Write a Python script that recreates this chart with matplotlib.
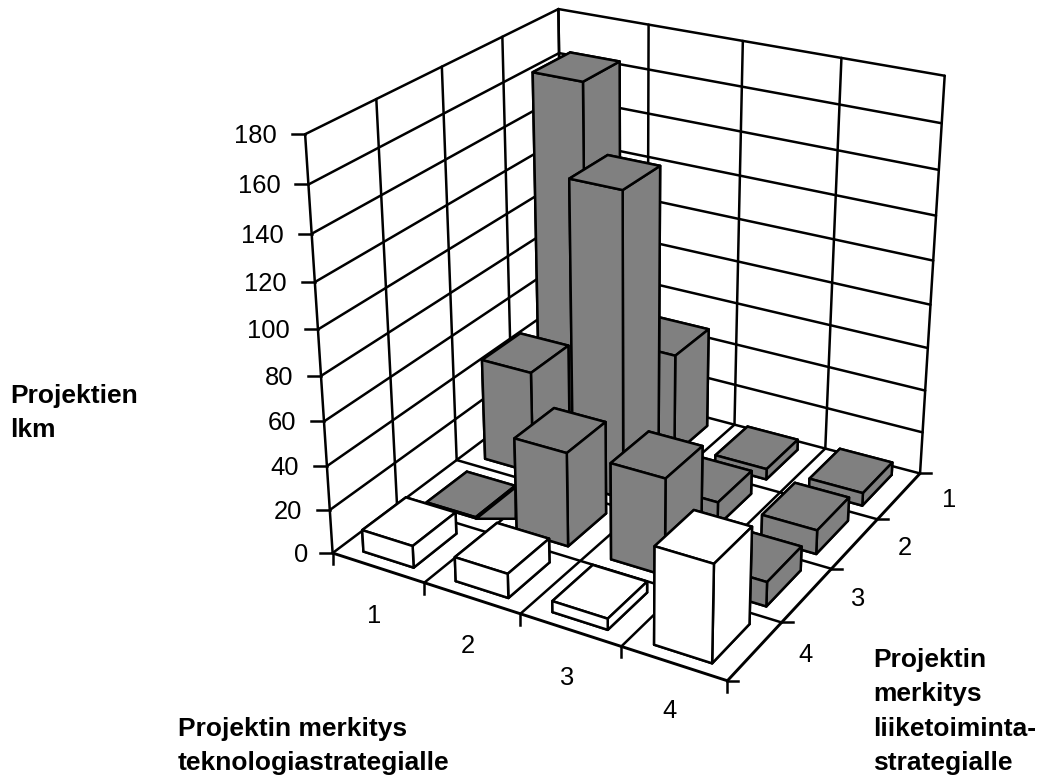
import matplotlib
matplotlib.use("Agg")
import matplotlib.pyplot as plt
import numpy as np
from mpl_toolkits.mplot3d.art3d import Poly3DCollection

plt.rcParams["font.family"] = ["Liberation Sans", "DejaVu Sans"]

WIDTH, HEIGHT = 1039, 775

# project counts, one list per business-strategy class (1 = back row)
tech_labels = ["1", "2", "3", "4"]
business_labels = ["1", "2", "3", "4"]
value_ticks = [0, 20, 40, 60, 80, 100, 120, 140, 160, 180]
business_1 = [164, 48, 5, 6]
business_2 = [48, 140, 11, 11]
business_3 = [0.5, 43, 44, 11]
business_4 = [10, 11, 5, 43]
bar_colors = ["#808080", "#808080", "#808080", "#ffffff"]

BAR_DX = 0.55
BAR_DY = 0.68
LW = 1.8

# box corners (tech, business, value) and where they sit on the canvas
box_corners = [
    (0, 0, 180), (0, 4, 180), (0, 4, 0), (4, 0, 180),
    (4, 0, 0), (4, 4, 0), (0, 0, 0),
]
canvas_corners = [
    (560, 9), (304, 134), (334, 553), (944, 76),
    (921, 473), (727, 681), (562, 380),
]


def fit_camera(world, canvas):
    rows = []
    for (x, y, z), (u, v) in zip(world, canvas):
        rows.append([x, y, z, 1, 0, 0, 0, 0, -u * x, -u * y, -u * z, -u])
        rows.append([0, 0, 0, 0, x, y, z, 1, -v * x, -v * y, -v * z, -v])
    p = np.linalg.svd(np.array(rows, dtype=float))[2][-1].reshape(3, 4)
    return p / p[2, 3]


P = fit_camera(box_corners, canvas_corners)
M = np.array([P[0], P[1], [-1, -1, -0.01, 0], P[2]])


def to_canvas(x, y, z):
    u, v, w = P @ np.array([x, y, z, 1.0])
    return u / w, v / w


def floor_point(u, v):
    x, y, w = np.linalg.solve(P[:, [0, 1, 3]], [u, v, 1.0])
    return x / w, y / w, 0


fig = plt.figure(figsize=(WIDTH / 100, HEIGHT / 100), dpi=100)
ax = fig.add_axes([0, 0, 1, 1], projection="3d")
ax.set_axis_off()
ax.set_proj_type("ortho")  # stops Line3D masking points outside [-1, 1]
ax.computed_zorder = False
ax.get_proj = lambda: M
ax.apply_aspect = lambda position=None: None
ax.set_position([0, 0, 1, 1])


def line3(xs, ys, zs, lw=LW, zorder=1):
    ax.plot(xs, ys, zs, color="black", lw=lw, zorder=zorder, solid_capstyle="round")


# walls
for v in value_ticks[1:]:
    line3([0, 0], [4, 0], [v, v])
    line3([0, 4], [0, 0], [v, v])
for k in range(5):
    line3([0, 0], [k, k], [0, 180])
    line3([k, k], [0, 0], [0, 180])

# floor
for k in range(5):
    line3([k, k], [0, 4], [0, 0], lw=LW if k < 4 else 2.1)
    line3([0, 4], [k, k], [0, 0], lw=LW if k < 4 else 2.1)

# bars, back row first
rows = [business_1, business_2, business_3, business_4]
order = 2
for r, (row, color) in enumerate(zip(rows, bar_colors)):
    for c, value in enumerate(row):
        x0, y0 = c + 0.5 - BAR_DX / 2, r + 0.5 - BAR_DY / 2
        ax.bar3d(x0, y0, 0, BAR_DX, BAR_DY, value,
                 color=color, edgecolor="black", linewidth=LW, shade=False, zorder=order)
        order += 1
        # the near-zero bar leaves a sliver of its side showing on the floor
        if value < 1:
            front = (x0 + BAR_DX, y0 + BAR_DY, 0)
            side = (x0 + BAR_DX, y0, 0)
            corner = floor_point(to_canvas(*side)[0], to_canvas(*front)[1])
            ax.add_collection3d(Poly3DCollection([[front, side, corner]], facecolor=color,
                                                 edgecolor="black", linewidth=LW, zorder=order - 0.5))

ax.viewLim.intervalx = (0, WIDTH)
ax.viewLim.intervaly = (HEIGHT, 0)

# ticks and labels
tick_style = dict(color="black", lw=LW, zorder=100)
label_style = dict(fontsize=18.4, color="black", zorder=101)
for v in value_ticks:
    u, w = to_canvas(0, 4, v)
    gap = 24 if v == 0 else 28
    ax.add_line(plt.Line2D([u - 13, u], [w, w], **tick_style))
    ax.annotate(str(v), (u - gap, w + 2), xycoords="data", ha="right", va="center", **label_style)
for k in range(5):
    u, w = to_canvas(k, 4, 0)
    ax.add_line(plt.Line2D([u, u], [w, w + 11], **tick_style))
    u, w = to_canvas(4, k, 0)
    ax.add_line(plt.Line2D([u, u + 11], [w, w], **tick_style))
for k, lab in enumerate(tech_labels):
    u, w = to_canvas(k + 0.5, 4, 0)
    ax.annotate(lab, (u - 4, w + 48), xycoords="data", ha="center", va="center", **label_style)
for k, lab in enumerate(business_labels):
    u, w = to_canvas(4, k + 0.5, 0)
    ax.annotate(lab, (u + 50, w + 4), xycoords="data", ha="center", va="center", **label_style)

# axis titles
titles = [
    (10, 403, "Projektien"), (10, 437, "lkm"),
    (178, 736, "Projektin merkitys"), (178, 770, "teknologiastrategialle"),
    (873, 667, "Projektin"), (873, 701, "merkitys"),
    (873, 736, "liiketoiminta-"), (873, 770, "strategialle"),
]
for x, y, s in titles:
    ax.annotate(s, (x, y), xycoords="data", ha="left", va="baseline",
                fontsize=19, fontweight="bold", color="black", zorder=101)

fig.savefig("out.png", dpi=100, facecolor="white")
